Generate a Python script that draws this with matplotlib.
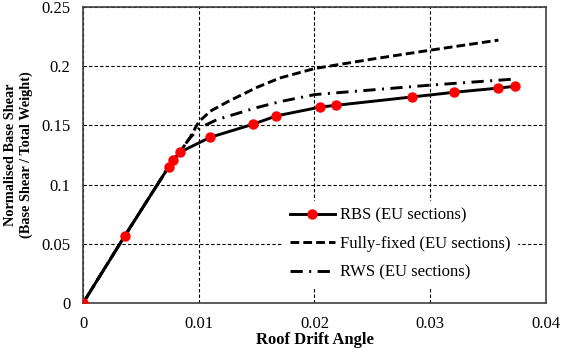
import numpy as np
from matplotlib import pyplot as plt

# RBS (EU sections) - markers on curve
rbs_x = [0.0, 0.0036, 0.0074, 0.0078, 0.0084, 0.0110, 0.0147, 0.0167, 0.0205, 0.0219, 0.0284, 0.0321, 0.0359, 0.0373]
rbs_y = [0.0, 0.0566, 0.115, 0.121, 0.1275, 0.140, 0.151, 0.158, 0.1655, 0.167, 0.174, 0.178, 0.1815, 0.183]

# Fully-fixed (EU sections)
ff_x = [0.0, 0.0036, 0.0074, 0.0084, 0.0092, 0.0100, 0.0110, 0.0125, 0.0150, 0.0170, 0.0200, 0.0250, 0.0300, 0.0359]
ff_y = [0.0, 0.0566, 0.115, 0.128, 0.139, 0.153, 0.162, 0.170, 0.182, 0.190, 0.198, 0.206, 0.2135, 0.222]

# RWS (EU sections)
rws_x = [0.0, 0.0036, 0.0074, 0.0084, 0.0092, 0.0101, 0.0116, 0.0133, 0.0150, 0.0170, 0.0200, 0.0250, 0.0300, 0.0371]
rws_y = [0.0, 0.0566, 0.115, 0.128, 0.139, 0.148, 0.155, 0.160, 0.165, 0.170, 0.176, 0.180, 0.184, 0.189]

plt.rcParams['font.family'] = ['Liberation Serif', 'DejaVu Serif']

fig = plt.figure(figsize=(5.61, 3.48), dpi=100)
ax = fig.add_axes([0.148, 0.129, 0.825, 0.851])

lw = 2.1
ax.plot(ff_x, ff_y, color="black", lw=lw, dashes=(3.0, 1.4), label="Fully-fixed (EU sections)", zorder=3)
ax.plot(rws_x, rws_y, color="black", lw=lw, dashes=(4.2, 2.2, 0.7, 2.2), label="RWS (EU sections)", zorder=3)
ax.plot(rbs_x, rbs_y, color="black", lw=lw, marker="o", markersize=6.5,
        markerfacecolor="red", markeredgecolor="red", label="RBS (EU sections)", zorder=4)

ax.set_xlim(0, 0.04)
ax.set_ylim(0, 0.25)
ax.set_xticks([0, 0.01, 0.02, 0.03, 0.04])
ax.set_xticklabels(["0", "0.01", "0.02", "0.03", "0.04"])
ax.set_yticks([0, 0.05, 0.1, 0.15, 0.2, 0.25])
ax.set_yticklabels(["0", "0.05", "0.1", "0.15", "0.2", "0.25"])
ax.tick_params(length=0, labelsize=12, pad=9)
ax.grid(True, color="black", lw=0.8, dashes=(3, 2))

for s in ax.spines.values():
    s.set_color("#404040")
    s.set_linewidth(1.2)

ax.set_xlabel("Roof Drift Angle", fontsize=12, fontweight="bold", labelpad=0)
ax.set_ylabel("Normalised Base Shear\n(Base Shear / Total Weight)", fontsize=10.3,
              fontweight="bold", labelpad=6)

handles, labels = ax.get_legend_handles_labels()
order = [2, 0, 1]
leg = ax.legend([handles[i] for i in order], [labels[i] for i in order],
                loc="lower right", bbox_to_anchor=(0.955, 0.025), frameon=True,
                fontsize=12, handlelength=2.7, handletextpad=0.3,
                labelspacing=0.75, fancybox=False)
leg.get_frame().set_edgecolor("white")
leg.get_frame().set_facecolor("white")
leg.get_frame().set_alpha(1)
leg.set_zorder(5)

fig.savefig("out.png", dpi=100)
